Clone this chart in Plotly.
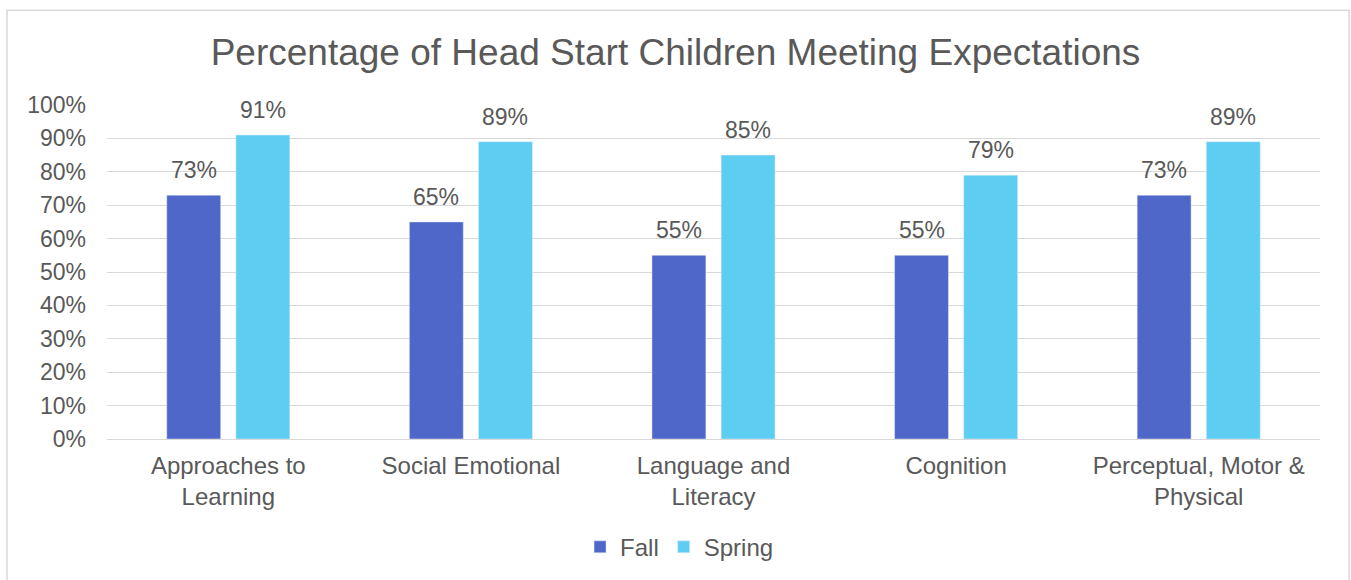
import plotly.graph_objects as go

categories = ["Approaches to<br>Learning", "Social Emotional", "Language and<br>Literacy", "Cognition", "Perceptual, Motor &<br>Physical"]
fall = [73, 65, 55, 55, 73]
spring = [91, 89, 85, 79, 89]
tick_vals = [0, 10, 20, 30, 40, 50, 60, 70, 80, 90, 100]
tick_text = [f"{v}%" for v in tick_vals]

TXT = "#595959"
FONT = "Liberation Sans, Arial, sans-serif"
LABEL_SIZE = 23

fig = go.Figure()
fig.add_trace(go.Bar(name="Fall", x=categories, y=fall, marker_color="#4F67C8"))
fig.add_trace(go.Bar(name="Spring", x=categories, y=spring, marker_color="#5ECDF2"))

annotations = []
for series, shift in ((fall, -34.5), (spring, 34.5)):
    for cat, v in zip(categories, series):
        annotations.append(dict(x=cat, y=v, xref="x", yref="y", text=f"{v}%",
                                showarrow=False, xshift=shift, yshift=10,
                                yanchor="bottom", xanchor="center",
                                font=dict(size=LABEL_SIZE, color=TXT, family=FONT)))

fig.update_layout(
    width=1351, height=580,
    margin=dict(l=107, r=31, t=105, b=140),
    paper_bgcolor="white", plot_bgcolor="white",
    font=dict(family=FONT, color=TXT, size=20),
    title=dict(text="Percentage of Head Start Children Meeting Expectations",
               x=0.5, xanchor="center", y=0.91, yanchor="middle",
               font=dict(size=37, color=TXT, family=FONT)),
    barmode="group", bargap=0.43, bargroupgap=0.22,
    showlegend=True,
    legend=dict(orientation="h", x=0.472, xanchor="center", y=-0.32, yanchor="middle",
                font=dict(size=24, color=TXT), itemwidth=30, traceorder="normal"),
    xaxis=dict(showgrid=False, showline=False, ticks="", tickfont=dict(size=24, color=TXT),
               ticklabelstandoff=10),
    yaxis=dict(range=[0, 100], tickvals=tick_vals, ticktext=tick_text,
               showgrid=True, gridcolor="#D9D9D9", gridwidth=1,
               zeroline=True, zerolinecolor="#D9D9D9", zerolinewidth=1,
               showline=False, ticks="", tickfont=dict(size=23, color=TXT),
               ticklabelstandoff=20),
    annotations=annotations,
    shapes=[dict(type="rect", xref="paper", yref="paper",
                 x0=-0.0824, x1=1.024, y0=-0.5, y1=1.2836,
                 line=dict(color="#D9D9D9", width=1.5), fillcolor="rgba(0,0,0,0)", layer="below")],
)

fig.write_html("out.html", config={"displayModeBar": False},
               post_script="document.body.style.margin='0';")
